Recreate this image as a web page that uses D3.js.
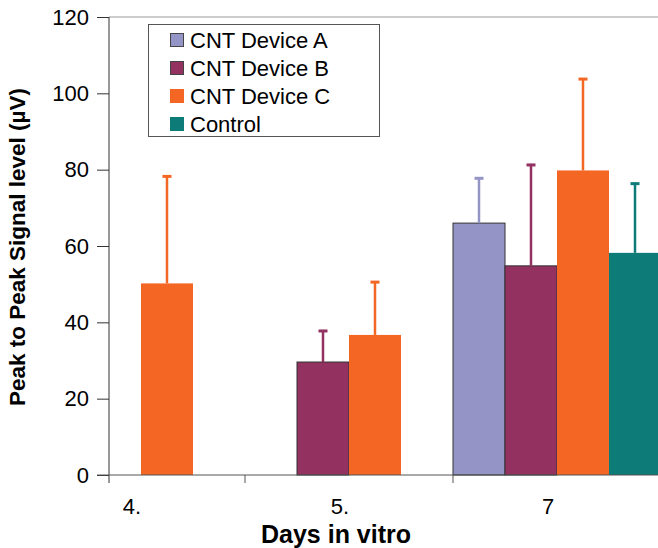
<!DOCTYPE html>
<html>
<head>
<meta charset="utf-8">
<script src="https://cdn.jsdelivr.net/npm/d3@7"></script>
<style>
body { margin: 0; background: #fff; }
text { font-family: "Liberation Sans", Arial, sans-serif; }
</style>
</head>
<body>
<script>
var w = 658;
var h = 548;

// data
var days = ["4.", "5.", "7"];
var seriesNames = ["CNT Device A", "CNT Device B", "CNT Device C", "Control"];
var deviceA = [null, null, 66];
var deviceAErr = [null, null, 12];
var deviceB = [null, 29.6, 54.8];
var deviceBErr = [null, 8.4, 26.7];
var deviceC = [50.2, 36.7, 79.8];
var deviceCErr = [28.3, 14.1, 24.2];
var control = [null, null, 58.2];
var controlErr = [null, null, 18.4];
var yTicks = [0, 20, 40, 60, 80, 100, 120];

var colors = ["#9494c6", "#933160", "#f46623", "#0d7b78"];
var outlined = [true, true, false, false];
var values = [deviceA, deviceB, deviceC, control];
var errors = [deviceAErr, deviceBErr, deviceCErr, controlErr];

var rows = [];
seriesNames.forEach(function (s, i) {
    days.forEach(function (d, j) {
        if (values[i][j] != null) {
            rows.push({series: s, idx: i, day: d, value: values[i][j], err: errors[i][j]});
        }
    });
});

var svg = d3.select("body")
    .append("svg")
    .attr("width", w)
    .attr("height", h);

var axisX = 109;
var x = d3.scaleBand().domain(days).range([37, 661]).padding(0);
var xs = d3.scaleBand().domain(seriesNames).range([0, x.bandwidth()]).padding(0);
var y = d3.scaleLinear().domain([0, 120]).range([475, 17]);

// top border of plot area
svg.append("line")
    .attr("x1", axisX).attr("x2", w)
    .attr("y1", y(120)).attr("y2", y(120))
    .attr("stroke", "#999").attr("stroke-width", 1);

// bars
svg.selectAll("rect.bar")
    .data(rows)
    .enter()
    .append("rect")
    .attr("class", "bar")
    .attr("x", function (d) { return x(d.day) + xs(d.series); })
    .attr("width", xs.bandwidth())
    .attr("y", function (d) { return y(d.value); })
    .attr("height", function (d) { return y(0) - y(d.value); })
    .attr("fill", function (d) { return colors[d.idx]; })
    .attr("stroke", function (d) { return outlined[d.idx] ? "#333" : "none"; })
    .attr("stroke-width", 1);

// error bars (upper only)
var eb = svg.selectAll("g.err")
    .data(rows)
    .enter()
    .append("g")
    .attr("class", "err");
eb.append("line")
    .attr("x1", function (d) { return x(d.day) + xs(d.series) + xs.bandwidth() / 2; })
    .attr("x2", function (d) { return x(d.day) + xs(d.series) + xs.bandwidth() / 2; })
    .attr("y1", function (d) { return y(d.value); })
    .attr("y2", function (d) { return y(d.value + d.err); })
    .attr("stroke", function (d) { return colors[d.idx]; })
    .attr("stroke-width", 2.5);
eb.append("line")
    .attr("x1", function (d) { return x(d.day) + xs(d.series) + xs.bandwidth() / 2 - 4.5; })
    .attr("x2", function (d) { return x(d.day) + xs(d.series) + xs.bandwidth() / 2 + 4.5; })
    .attr("y1", function (d) { return y(d.value + d.err) + 1; })
    .attr("y2", function (d) { return y(d.value + d.err) + 1; })
    .attr("stroke", function (d) { return colors[d.idx]; })
    .attr("stroke-width", 3);

// y axis
var yAxis = svg.append("g")
    .attr("transform", "translate(" + axisX + ",0)")
    .call(d3.axisLeft(y).tickValues(yTicks).tickSize(12).tickPadding(8).tickSizeOuter(0));
yAxis.select(".domain").remove();
yAxis.append("line")
    .attr("x1", 0).attr("x2", 0)
    .attr("y1", y(120)).attr("y2", y(0) + 8)
    .attr("stroke", "#333");
yAxis.selectAll(".tick line").attr("stroke", "#333");
yAxis.selectAll(".tick text")
    .attr("fill", "#000")
    .style("font-size", "22px")
    .style("font-family", "Liberation Sans, Arial, sans-serif");

// x axis
svg.append("line")
    .attr("x1", axisX - 12).attr("x2", w)
    .attr("y1", y(0)).attr("y2", y(0))
    .attr("stroke", "#555");
svg.selectAll("line.xtick")
    .data(days.slice(1))
    .enter()
    .append("line")
    .attr("class", "xtick")
    .attr("x1", function (d) { return x(d); })
    .attr("x2", function (d) { return x(d); })
    .attr("y1", y(0)).attr("y2", y(0) + 8)
    .attr("stroke", "#555");
svg.selectAll("text.xlab")
    .data(days)
    .enter()
    .append("text")
    .attr("class", "xlab")
    .attr("x", function (d) { return x(d) + x.bandwidth() / 2 - 9; })
    .attr("y", 514)
    .attr("text-anchor", "middle")
    .style("font-size", "22px")
    .text(function (d) { return d; });

// axis titles
svg.append("text")
    .attr("x", 336).attr("y", 543)
    .attr("text-anchor", "middle")
    .style("font-size", "25px")
    .style("font-weight", "bold")
    .text("Days in vitro");
svg.append("text")
    .attr("transform", "translate(25,247) rotate(-90)")
    .attr("text-anchor", "middle")
    .style("font-size", "22.5px")
    .style("font-weight", "bold")
    .text("Peak to Peak Signal level (\u00b5V)");

// legend
var lg = svg.append("g");
lg.append("rect")
    .attr("x", 148.5).attr("y", 24.5)
    .attr("width", 231).attr("height", 112)
    .attr("fill", "#fff")
    .attr("stroke", "#555");
var li = lg.selectAll("g.item")
    .data(seriesNames)
    .enter()
    .append("g")
    .attr("class", "item")
    .attr("transform", function (d, i) { return "translate(170," + (33 + i * 28) + ")"; });
li.append("rect")
    .attr("x", function (d, i) { return outlined[i] ? 0.5 : 0; })
    .attr("y", function (d, i) { return outlined[i] ? 0.5 : 0; })
    .attr("width", function (d, i) { return outlined[i] ? 13 : 14; })
    .attr("height", function (d, i) { return outlined[i] ? 13 : 14; })
    .attr("fill", function (d, i) { return colors[i]; })
    .attr("stroke", function (d, i) { return outlined[i] ? "#444" : "none"; });
li.append("text")
    .attr("x", 20).attr("y", 15)
    .style("font-size", "22px")
    .text(function (d) { return d; });
</script>
</body>
</html>
